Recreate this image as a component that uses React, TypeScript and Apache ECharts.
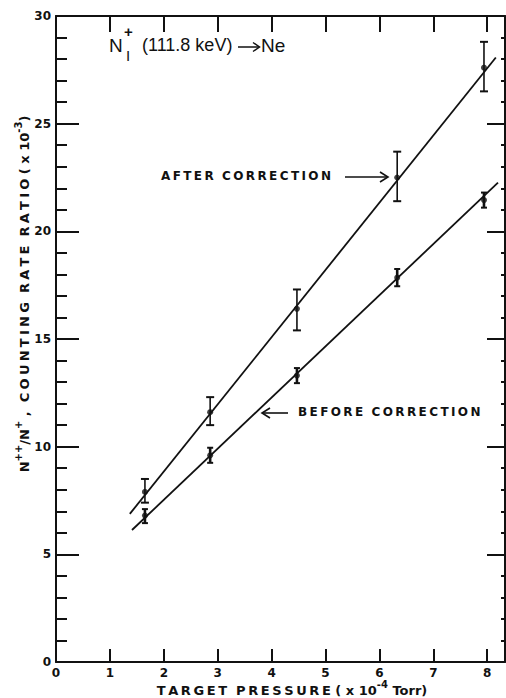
import React, { useEffect, useRef } from "react";
import * as echarts from "echarts";

const pressure = [1.65, 2.86, 4.47, 6.33, 7.94];
const afterRatio = [7.9, 11.6, 16.4, 22.5, 27.6];
const afterLow = [7.4, 11.0, 15.4, 21.4, 26.5];
const afterHigh = [8.5, 12.3, 17.3, 23.7, 28.8];
const beforeRatio = [6.8, 9.6, 13.3, 17.85, 21.45];
const beforeLow = [6.45, 9.25, 12.95, 17.45, 21.1];
const beforeHigh = [7.1, 9.95, 13.65, 18.25, 21.8];
const afterFitX = [1.37, 8.16];
const afterFitY = [6.88, 28.07];
const beforeFitX = [1.41, 8.2];
const beforeFitY = [6.13, 22.26];
const xTicks = [0, 1, 2, 3, 4, 5, 6, 7, 8];
const yTicks = [0, 5, 10, 15, 20, 25, 30];

const INK = "#111";
const BOLD_FONT = "DejaVu Sans";

function spaced(s: string, sep = "\u2009") {
  return s.split("").join(sep);
}

export default function App() {
  const ref = useRef<HTMLDivElement>(null);
  useEffect(() => {
    if (!ref.current) return;
    const chart = echarts.init(ref.current, undefined, { renderer: "svg" });

    const errItem = (capW: number, lw: number) => (params: any, api: any) => {
      const x = api.value(0);
      const lo = api.coord([x, api.value(1)]);
      const hi = api.coord([x, api.value(2)]);
      const st = { stroke: INK, lineWidth: lw };
      return {
        type: "group",
        children: [
          { type: "line", shape: { x1: lo[0], y1: lo[1], x2: hi[0], y2: hi[1] }, style: st },
          { type: "line", shape: { x1: lo[0] - capW / 2, y1: lo[1], x2: lo[0] + capW / 2, y2: lo[1] }, style: { stroke: INK, lineWidth: 2 } },
          { type: "line", shape: { x1: hi[0] - capW / 2, y1: hi[1], x2: hi[0] + capW / 2, y2: hi[1] }, style: { stroke: INK, lineWidth: 2 } },
        ],
      };
    };

    const labelStyle = { color: INK, fontFamily: BOLD_FONT, fontWeight: "bold" as const, fontSize: 12 };
    const nameRich = {
      b: { font: "bold 13px 'DejaVu Sans'", fill: INK, lineHeight: 18, verticalAlign: "bottom" },
      s: { font: "bold 10px 'DejaVu Sans'", fill: INK, lineHeight: 18, verticalAlign: "top" },
    };
    const axisLine = { show: true, onZero: false, lineStyle: { color: INK, width: 2 } };
    const tickLine = { color: INK, width: 2 };

    chart.setOption({
      animation: false,
      backgroundColor: "#fff",
      grid: { left: 56, right: 1, top: 16, bottom: 36 },
      xAxis: [
        {
          type: "value", position: "bottom", min: 0, max: 8.33, interval: 1,
          axisLine,
          axisTick: { show: true, inside: true, length: 13, lineStyle: tickLine },
          axisLabel: {
            ...labelStyle, margin: 5, showMaxLabel: false,
            formatter: (v: number) => (xTicks.indexOf(v) >= 0 ? String(v) : ""),
          },
          splitLine: { show: false },
        },
        {
          type: "value", position: "top", min: 0, max: 8.33, interval: 1,
          axisLine,
          axisTick: { show: true, inside: true, length: 16, lineStyle: tickLine },
          axisLabel: { show: false },
          splitLine: { show: false },
        },
      ],
      yAxis: [
        {
          type: "value", position: "left", min: 0, max: 30, interval: 5,
          axisLine,
          axisTick: { show: true, inside: true, length: 23, lineStyle: tickLine },
          minorTick: { show: true, splitNumber: 5, length: 11, lineStyle: tickLine },
          axisLabel: {
            ...labelStyle, margin: 5,
            formatter: (v: number) => (yTicks.indexOf(v) >= 0 ? String(v) : ""),
          },
          splitLine: { show: false },
          minorSplitLine: { show: false },
        },
        {
          type: "value", position: "right", min: 0, max: 30, interval: 5,
          axisLine,
          axisTick: { show: true, inside: true, length: 18, lineStyle: tickLine },
          minorTick: { show: true, splitNumber: 5, length: 4, lineStyle: tickLine },
          axisLabel: { show: false },
          splitLine: { show: false },
          minorSplitLine: { show: false },
        },
      ],
      series: [
        {
          type: "line", name: "after fit", xAxisIndex: 1, yAxisIndex: 1,
          data: afterFitX.map((x, i) => [x, afterFitY[i]]),
          showSymbol: false, symbol: "none", lineStyle: { color: INK, width: 1.8 },
        },
        {
          type: "line", name: "before fit", xAxisIndex: 0, yAxisIndex: 0,
          data: beforeFitX.map((x, i) => [x, beforeFitY[i]]),
          showSymbol: false, symbol: "none", lineStyle: { color: INK, width: 1.8 },
        },
        {
          type: "custom", name: "after err", xAxisIndex: 0, yAxisIndex: 0,
          renderItem: errItem(8, 1.6),
          encode: { x: 0, y: [1, 2] },
          data: pressure.map((x, i) => [x, afterLow[i], afterHigh[i]]),
          z: 3,
        },
        {
          type: "custom", name: "before err", xAxisIndex: 0, yAxisIndex: 0,
          renderItem: errItem(6, 2.6),
          encode: { x: 0, y: [1, 2] },
          data: pressure.map((x, i) => [x, beforeLow[i], beforeHigh[i]]),
          z: 3,
        },
        {
          type: "scatter", name: "after", xAxisIndex: 0, yAxisIndex: 0,
          data: pressure.map((x, i) => [x, afterRatio[i]]),
          symbol: "circle", symbolSize: 6, itemStyle: { color: INK }, z: 4,
        },
        {
          type: "scatter", name: "before", xAxisIndex: 0, yAxisIndex: 0,
          data: pressure.map((x, i) => [x, beforeRatio[i]]),
          symbol: "circle", symbolSize: 6, itemStyle: { color: INK }, z: 4,
        },
      ],
      graphic: [
        // title
        { type: "text", left: 109, top: 36, style: { text: "N", font: "19px 'Liberation Sans'", fill: INK } },
        { type: "text", left: 124, top: 24, style: { text: "+", font: "bold 15px 'Liberation Sans'", fill: INK } },
        { type: "text", left: 126, top: 48, style: { text: "I", font: "15px 'Liberation Sans'", fill: INK } },
        { type: "text", left: 142, top: 36, style: { text: "(111.8 keV)", font: "18px 'Liberation Sans'", fill: INK } },
        { type: "line", shape: { x1: 238, y1: 47, x2: 259, y2: 47 }, style: { stroke: INK, lineWidth: 1.5 } },
        { type: "polyline", shape: { points: [[253, 42.5], [259.5, 47], [253, 51.5]] }, style: { stroke: INK, lineWidth: 1.5, fill: "none" } },
        { type: "text", left: 261, top: 36, style: { text: "Ne", font: "19px 'Liberation Sans'", fill: INK } },
        // annotations
        { type: "text", left: 161, top: 170, style: { text: spaced("AFTER") + "  " + spaced("CORRECTION"), font: "bold 12px 'DejaVu Sans'", fill: INK } },
        { type: "line", shape: { x1: 345, y1: 177, x2: 387, y2: 177 }, style: { stroke: INK, lineWidth: 1.6 } },
        { type: "polyline", shape: { points: [[380, 172], [388, 177], [380, 182]] }, style: { stroke: INK, lineWidth: 1.6, fill: "none" } },
        { type: "line", shape: { x1: 263, y1: 413, x2: 288, y2: 413 }, style: { stroke: INK, lineWidth: 1.6 } },
        { type: "polyline", shape: { points: [[270, 408], [262, 413], [270, 418]] }, style: { stroke: INK, lineWidth: 1.6, fill: "none" } },
        { type: "text", left: 298, top: 406, style: { text: spaced("BEFORE") + "  " + spaced("CORRECTION"), font: "bold 12px 'DejaVu Sans'", fill: INK } },
        // axis names
        {
          type: "text", x: 292, y: 688,
          style: {
            text: "{b|" + spaced("TARGET") + "  " + spaced("PRESSURE") + " ( x 10}{s|-4}{b| Torr)}",
            align: "center", verticalAlign: "middle",
            rich: nameRich,
          },
        },
        {
          type: "text", x: 22, y: 294, rotation: Math.PI / 2,
          style: {
            text: "{b|N}{s|++}{b|/N}{s|+}{b| ,  " + spaced("COUNTING", "\u2005") + "  " + spaced("RATE", "\u2005") + "  " + spaced("RATIO", "\u2005") + " ( x 10}{s|-3}{b|)}",
            align: "center", verticalAlign: "middle",
            rich: nameRich,
          },
        },
      ],
    });
    return () => chart.dispose();
  }, []);
  return (
    <div
      ref={ref}
      style={{ position: "fixed", left: 0, top: 0, width: 506, height: 698, background: "#fff" }}
    />
  );
}
